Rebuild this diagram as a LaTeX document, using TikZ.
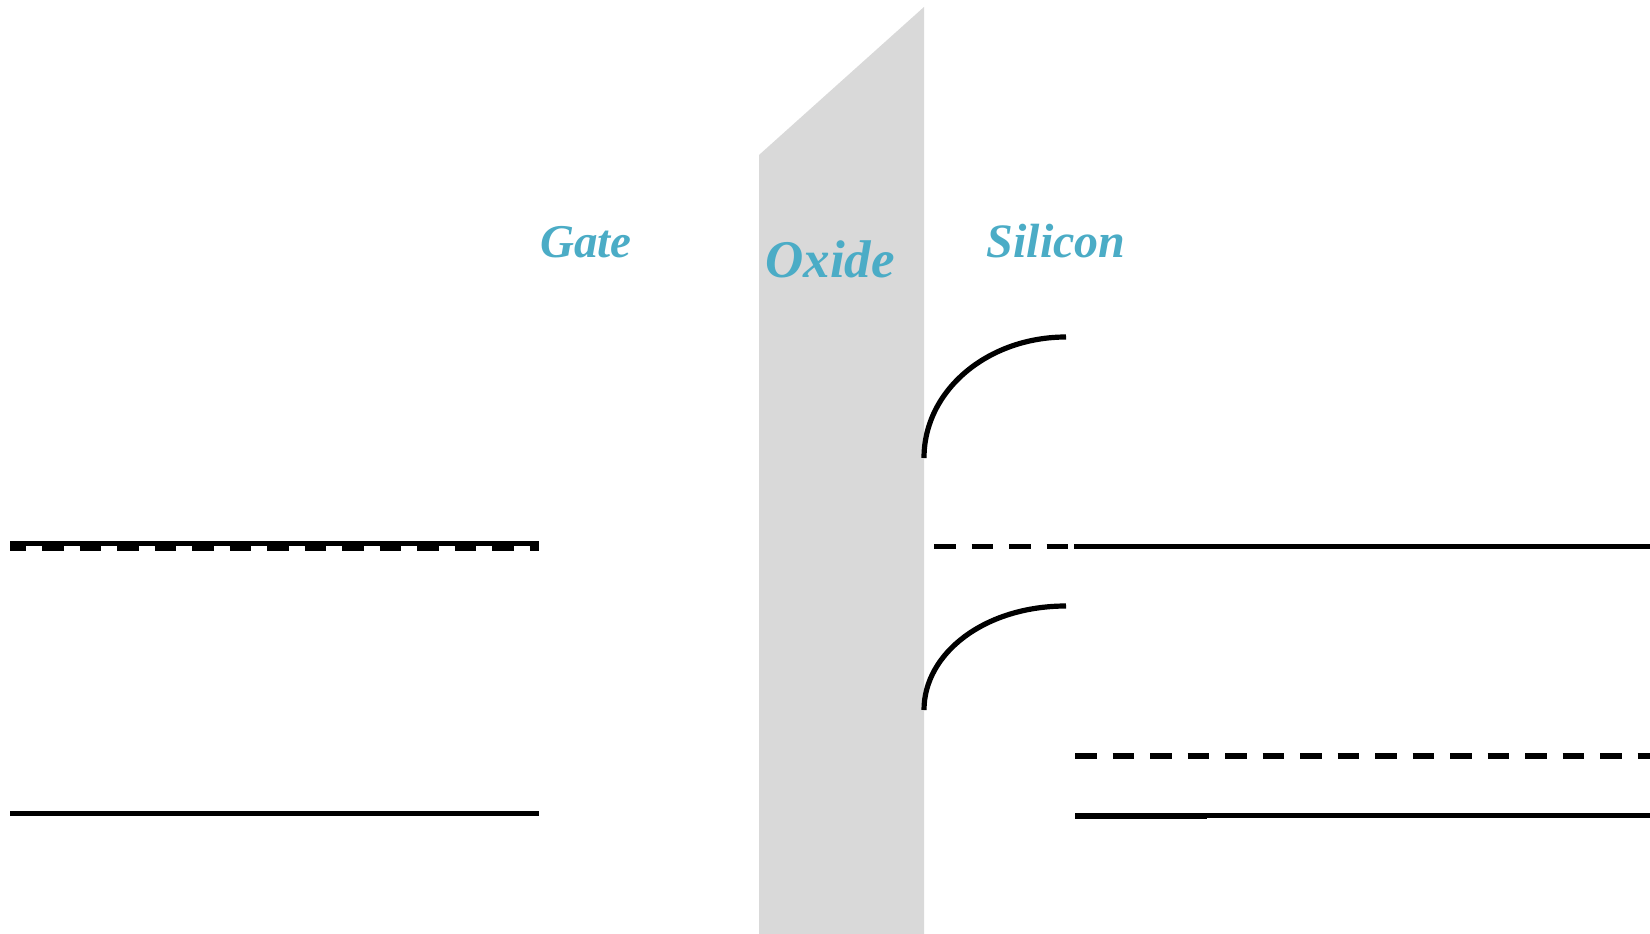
\documentclass[tikz,border=0pt]{standalone}
\usepackage{fontspec}
\setmainfont{Liberation Serif}
\definecolor{labelblue}{RGB}{75,172,198}
\definecolor{oxidegray}{RGB}{217,217,217}
\begin{document}
\begin{tikzpicture}[x=1pt,y=-1pt,
  band/.style={line width=5.2pt},
  dband/.style={line width=5.2pt, dash pattern=on 21.5pt off 16pt},
  lbl/.style={text=labelblue, anchor=base, inner sep=0pt, font=\bfseries\itshape}]
\useasboundingbox[fill=white] (0,0) rectangle (1650,934);
% oxide region
\fill[oxidegray] (759,155) -- (924,7) -- (924,934) -- (759,934) -- cycle;
% labels
\node[lbl, font=\bfseries\itshape\fontsize{47}{50}\selectfont] (gate) at (586,257) {Gate};
\node[lbl, font=\bfseries\itshape\fontsize{53}{56}\selectfont] (oxide) at (830,277) {Oxide};
\node[lbl, font=\bfseries\itshape\fontsize{48}{50}\selectfont] (silicon) at (1056,257) {Silicon};
% gate levels
\draw[band] (10,543.3) -- (539,543.3);
\draw[dband, dash phase=5.5pt] (10,548.3) -- (539,548.3);
\draw[band] (10,813.5) -- (539,813.5);
% silicon band bending
\draw[band] (924,458) .. controls (924,390) and (988,337) .. (1066,337);
\draw[band] (924,710) .. controls (924,653) and (985,606) .. (1066,606);
% middle level
\draw[dband] (934,546.5) -- (1069,546.5);
\draw[band] (1074,546.8) -- (1207,546.8);
\draw[band] (1207,546.1) -- (1650,546.1);
% lower right levels
\draw[dband] (1075,756) -- (1650,756);
\draw[band] (1075,816) -- (1207,816);
\draw[band] (1207,815.3) -- (1650,815.3);
\end{tikzpicture}
\end{document}
